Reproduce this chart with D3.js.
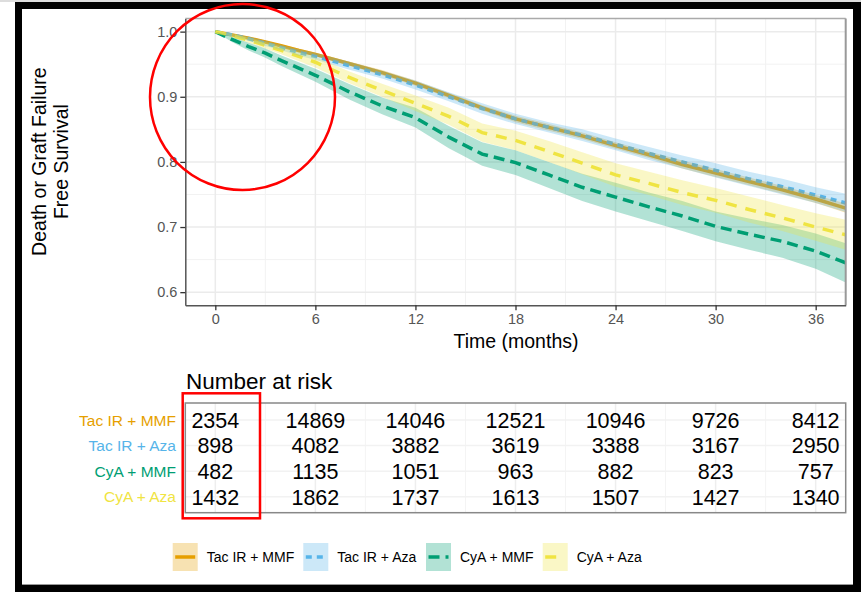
<!DOCTYPE html>
<html>
<head>
<meta charset="utf-8">
<script src="https://cdn.jsdelivr.net/npm/d3@7"></script>
<style>
  body { margin: 0; background: #fff; }
  svg { display: block; font-family: "Liberation Sans", Arial, sans-serif; }
</style>
</head>
<body>
<svg width="861" height="592"></svg>
<script>
// Kaplan-Meier estimates
const times = [0, 1, 2, 3, 4, 5, 6, 8, 10, 12, 14, 16, 18, 20, 22, 24, 26, 28, 30, 32, 34, 36, 37.8];

const tacMmf    = [1.0, 0.995, 0.990, 0.984, 0.978, 0.971, 0.965, 0.951, 0.937, 0.921, 0.902, 0.883, 0.866, 0.853, 0.840, 0.825, 0.811, 0.796, 0.783, 0.770, 0.757, 0.743, 0.729];
const tacMmfLow = [1.0, 0.994, 0.988, 0.982, 0.976, 0.968, 0.962, 0.948, 0.933, 0.917, 0.898, 0.879, 0.861, 0.848, 0.835, 0.820, 0.806, 0.790, 0.777, 0.764, 0.751, 0.737, 0.722];
const tacMmfUp  = [1.0, 0.996, 0.992, 0.986, 0.980, 0.974, 0.968, 0.954, 0.941, 0.925, 0.906, 0.887, 0.871, 0.858, 0.845, 0.830, 0.816, 0.802, 0.789, 0.776, 0.763, 0.749, 0.736];

const tacAza    = [1.0, 0.995, 0.989, 0.982, 0.975, 0.968, 0.962, 0.948, 0.934, 0.918, 0.900, 0.882, 0.866, 0.853, 0.841, 0.827, 0.813, 0.800, 0.787, 0.774, 0.762, 0.749, 0.737];
const tacAzaLow = [1.0, 0.993, 0.986, 0.978, 0.971, 0.963, 0.957, 0.942, 0.928, 0.911, 0.893, 0.874, 0.858, 0.845, 0.832, 0.818, 0.803, 0.790, 0.776, 0.763, 0.750, 0.737, 0.723];
const tacAzaUp  = [1.0, 0.997, 0.992, 0.986, 0.979, 0.973, 0.967, 0.954, 0.940, 0.925, 0.907, 0.890, 0.874, 0.861, 0.850, 0.836, 0.823, 0.810, 0.798, 0.785, 0.774, 0.761, 0.751];

const cyaMmf    = [1.0, 0.988, 0.977, 0.967, 0.955, 0.944, 0.933, 0.908, 0.886, 0.868, 0.838, 0.812, 0.799, 0.780, 0.761, 0.746, 0.731, 0.717, 0.701, 0.689, 0.678, 0.663, 0.645];
const cyaMmfLow = [1.0, 0.984, 0.971, 0.960, 0.947, 0.935, 0.923, 0.896, 0.873, 0.853, 0.821, 0.794, 0.780, 0.760, 0.740, 0.724, 0.709, 0.694, 0.678, 0.665, 0.653, 0.636, 0.615];
const cyaMmfUp  = [1.0, 0.992, 0.983, 0.974, 0.963, 0.953, 0.943, 0.920, 0.899, 0.883, 0.855, 0.830, 0.818, 0.800, 0.782, 0.768, 0.753, 0.740, 0.724, 0.713, 0.703, 0.690, 0.675];

const cyaAza    = [1.0, 0.994, 0.987, 0.979, 0.971, 0.962, 0.953, 0.930, 0.910, 0.890, 0.870, 0.845, 0.833, 0.816, 0.798, 0.780, 0.767, 0.753, 0.741, 0.727, 0.714, 0.700, 0.688];
const cyaAzaLow = [1.0, 0.991, 0.983, 0.974, 0.965, 0.955, 0.945, 0.921, 0.900, 0.878, 0.857, 0.831, 0.818, 0.800, 0.781, 0.762, 0.749, 0.734, 0.722, 0.707, 0.694, 0.679, 0.665];
const cyaAzaUp  = [1.0, 0.997, 0.991, 0.984, 0.977, 0.969, 0.961, 0.939, 0.920, 0.902, 0.883, 0.859, 0.848, 0.832, 0.815, 0.798, 0.785, 0.772, 0.760, 0.747, 0.734, 0.721, 0.711];

const groups = ['Tac IR + MMF', 'Tac IR + Aza', 'CyA + MMF', 'CyA + Aza'];
const colors = ['#E69F00', '#56B4E9', '#009E73', '#F0E442'];
const dashes = [null, '6,5', '11,6', '11,9'];

// number at risk table
const riskTimes = [0, 6, 12, 18, 24, 30, 36];
const riskTacMmf = [2354, 14869, 14046, 12521, 10946, 9726, 8412];
const riskTacAza = [898, 4082, 3882, 3619, 3388, 3167, 2950];
const riskCyaMmf = [482, 1135, 1051, 963, 882, 823, 757];
const riskCyaAza = [1432, 1862, 1737, 1613, 1507, 1427, 1340];

const xTicks = [0, 6, 12, 18, 24, 30, 36];
const xMinor = [3, 9, 15, 21, 27, 33];
const yTicks = [0.6, 0.7, 0.8, 0.9, 1.0];
const yMinor = [0.65, 0.75, 0.85, 0.95];

const series = [
  { name: groups[0], s: tacMmf, lo: tacMmfLow, hi: tacMmfUp, risk: riskTacMmf },
  { name: groups[1], s: tacAza, lo: tacAzaLow, hi: tacAzaUp, risk: riskTacAza },
  { name: groups[2], s: cyaMmf, lo: cyaMmfLow, hi: cyaMmfUp, risk: riskCyaMmf },
  { name: groups[3], s: cyaAza, lo: cyaAzaLow, hi: cyaAzaUp, risk: riskCyaAza },
];
series.forEach((d, i) => {
  d.color = colors[i];
  d.dash = dashes[i];
  d.pts = times.map((t, j) => ({ t: t, s: d.s[j], lo: d.lo[j], hi: d.hi[j] }));
});

const svg = d3.select('svg');

// screenshot frame
svg.append('rect').attr('x', 0).attr('y', 0).attr('width', 861).attr('height', 2).attr('fill', '#ddd');
svg.append('rect').attr('x', 15).attr('y', 2).attr('width', 846).attr('height', 590).attr('fill', '#000');
svg.append('rect').attr('x', 22).attr('y', 9).attr('width', 831).attr('height', 575).attr('fill', '#fff');
svg.append('rect').attr('x', 22).attr('y', 584).attr('width', 831).attr('height', 1).attr('fill', '#999');

const pLeft = 185.3, pRight = 845.7, pTop = 18.6, pBottom = 305.2;
const x = d3.scaleLinear().domain([-1.8, 37.8]).range([pLeft, pRight]);
const y = d3.scaleLinear().domain([0.58, 1.02]).range([pBottom, pTop]);

const plot = svg.append('g');

// grid
plot.selectAll('.minor-x').data(xMinor).enter().append('line')
  .attr('x1', d => x(d)).attr('x2', d => x(d)).attr('y1', pTop).attr('y2', pBottom)
  .attr('stroke', '#f2f2f2').attr('stroke-width', 1);
plot.selectAll('.minor-y').data(yMinor).enter().append('line')
  .attr('y1', d => y(d)).attr('y2', d => y(d)).attr('x1', pLeft).attr('x2', pRight)
  .attr('stroke', '#f2f2f2').attr('stroke-width', 1);
plot.selectAll('.major-x').data(xTicks).enter().append('line')
  .attr('x1', d => x(d)).attr('x2', d => x(d)).attr('y1', pTop).attr('y2', pBottom)
  .attr('stroke', '#ebebeb').attr('stroke-width', 1.5);
plot.selectAll('.major-y').data(yTicks).enter().append('line')
  .attr('y1', d => y(d)).attr('y2', d => y(d)).attr('x1', pLeft).attr('x2', pRight)
  .attr('stroke', '#ebebeb').attr('stroke-width', 1.5);

svg.append('clipPath').attr('id', 'panel')
  .append('rect').attr('x', pLeft).attr('y', pTop).attr('width', pRight - pLeft).attr('height', pBottom - pTop);

const curves = plot.append('g').attr('clip-path', 'url(#panel)');

const line = d3.line().x(d => x(d.t)).y(d => y(d.s));
const band = d3.area().x(d => x(d.t)).y0(d => y(d.lo)).y1(d => y(d.hi));

curves.selectAll('.surv').data(series).enter().append('path')
  .attr('d', d => line(d.pts))
  .attr('fill', 'none')
  .attr('stroke', d => d.color)
  .attr('stroke-width', 3.5)
  .attr('stroke-dasharray', d => d.dash);

curves.selectAll('.ci').data(series).enter().append('path')
  .attr('d', d => band(d.pts))
  .attr('fill', d => d.color)
  .attr('fill-opacity', 0.3);

// panel border
plot.append('line').attr('x1', pLeft).attr('x2', pRight).attr('y1', pTop).attr('y2', pTop)
  .attr('stroke', '#aaa').attr('stroke-width', 1.5);
plot.append('line').attr('x1', pRight).attr('x2', pRight).attr('y1', pTop).attr('y2', pBottom)
  .attr('stroke', '#999').attr('stroke-width', 2);

// axes
const xAxis = plot.append('g')
  .attr('transform', 'translate(0,' + pBottom + ')')
  .call(d3.axisBottom(x).tickValues(xTicks).tickSize(5).tickPadding(4).tickSizeOuter(0));
const yAxis = plot.append('g')
  .attr('transform', 'translate(' + pLeft + ',0)')
  .call(d3.axisLeft(y).tickValues(yTicks).tickFormat(d3.format('.1f')).tickSize(5).tickPadding(3).tickSizeOuter(0));
[xAxis, yAxis].forEach(a => {
  a.select('.domain').attr('stroke', '#555').attr('stroke-width', 1.5);
  a.selectAll('.tick line').attr('stroke', '#333').attr('stroke-width', 1.3);
  a.selectAll('.tick text').attr('fill', '#555').style('font-size', '14.5px').style('font-family', '"Liberation Sans", Arial, sans-serif');
});

svg.append('text')
  .attr('x', 516).attr('y', 341).attr('dy', '0.35em')
  .attr('text-anchor', 'middle')
  .style('font-size', '19.5px')
  .text('Time (months)');

const yTitle = svg.append('text')
  .attr('transform', 'translate(50,161.6) rotate(-90)')
  .attr('text-anchor', 'middle')
  .style('font-size', '19.5px');
yTitle.append('tspan').attr('x', 0).attr('y', -10.8).attr('dy', '0.35em').text('Death or Graft Failure');
yTitle.append('tspan').attr('x', 0).attr('y', 10.8).attr('dy', '0.35em').text('Free Survival');

// number at risk
svg.append('text')
  .attr('x', 186).attr('y', 381).attr('dy', '0.35em')
  .style('font-size', '22.5px')
  .text('Number at risk');

const tTop = 403, tBottom = 512.7;
const row = d3.scalePoint().domain(groups).range([420, 496.8]);
const table = svg.append('g');

table.selectAll('.tminor').data(xMinor).enter().append('line')
  .attr('x1', d => x(d)).attr('x2', d => x(d)).attr('y1', tTop).attr('y2', tBottom)
  .attr('stroke', '#f4f4f4').attr('stroke-width', 1);
table.selectAll('.tmajor').data(xTicks).enter().append('line')
  .attr('x1', d => x(d)).attr('x2', d => x(d)).attr('y1', tTop).attr('y2', tBottom)
  .attr('stroke', '#eeeeee').attr('stroke-width', 1.5);
table.selectAll('.trow').data(groups).enter().append('line')
  .attr('x1', pLeft).attr('x2', pRight).attr('y1', d => row(d)).attr('y2', d => row(d))
  .attr('stroke', '#f2f2f2').attr('stroke-width', 1.5);
table.append('rect')
  .attr('x', pLeft).attr('y', tTop).attr('width', pRight - pLeft).attr('height', tBottom - tTop)
  .attr('fill', 'none').attr('stroke', '#888').attr('stroke-width', 1.5);

series.forEach(d => {
  table.selectAll(null).data(d.risk).enter().append('text')
    .attr('x', (v, i) => x(riskTimes[i]))
    .attr('y', row(d.name)).attr('dy', '0.36em')
    .attr('text-anchor', 'middle')
    .style('font-size', '21.5px')
    .text(v => v);
  table.append('text')
    .attr('x', 176).attr('y', row(d.name)).attr('dy', '0.36em')
    .attr('text-anchor', 'end')
    .attr('fill', d.color)
    .style('font-size', '15.5px')
    .text(d.name);
});

// legend
const legendX = [172.7, 303.3, 426, 542.7];
const legend = svg.append('g');
series.forEach((d, i) => {
  const k = legend.append('g').attr('transform', 'translate(' + legendX[i] + ',543)');
  k.append('rect').attr('width', 25).attr('height', 28).attr('fill', d.color).attr('fill-opacity', 0.3);
  k.append('line').attr('x1', 2.5).attr('x2', 22.5).attr('y1', 14).attr('y2', 14)
    .attr('stroke', d.color).attr('stroke-width', 3.5)
    .attr('stroke-dasharray', d.dash);
  k.append('text').attr('x', 34).attr('y', 14).attr('dy', '0.35em')
    .style('font-size', '14px')
    .text(d.name);
});

// red highlight marks
svg.append('ellipse')
  .attr('cx', 242.5).attr('cy', 97).attr('rx', 92.5).attr('ry', 93)
  .attr('fill', 'none').attr('stroke', '#f00').attr('stroke-width', 2.5);
svg.append('rect')
  .attr('x', 182.7).attr('y', 393.3).attr('width', 77.3).attr('height', 125)
  .attr('fill', 'none').attr('stroke', '#f00').attr('stroke-width', 2.5);
</script>
</body>
</html>
